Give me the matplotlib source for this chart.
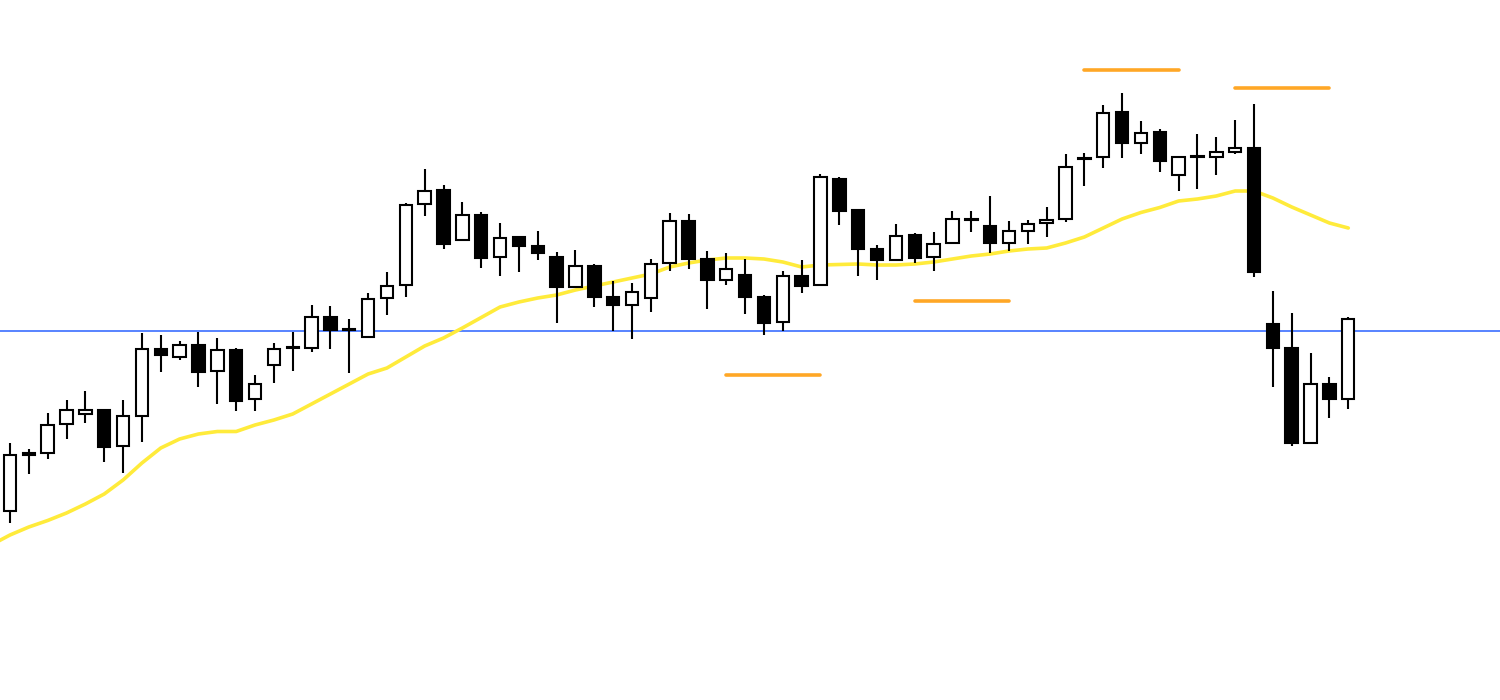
import matplotlib
matplotlib.use("Agg")
import matplotlib.pyplot as plt
import numpy as np

# OHLC per candle (price units, one candle per bar index 1..72)
opens = [189, 245, 247, 276, 286, 290, 254, 284, 351, 343, 355, 329, 350, 301, 335, 352, 352, 383, 371, 363,
         402, 415, 496, 510, 460, 485, 443, 463, 454, 443, 413, 434, 403, 395, 402, 437, 479, 441, 420, 425,
         403, 378, 424, 415, 521, 490, 451, 440, 465, 443, 457, 480, 474, 457, 469, 477, 481, 541, 543, 588,
         557, 568, 525, 543, 543, 548, 552, 376, 352, 257, 316, 301]
highs = [257, 251, 287, 300, 309, 291, 300, 367, 365, 359, 368, 362, 352, 325, 357, 368, 395, 394, 381, 407,
         428, 497, 531, 515, 498, 488, 477, 463, 469, 448, 450, 436, 419, 417, 441, 487, 486, 449, 447, 441,
         405, 429, 440, 526, 523, 491, 455, 476, 467, 468, 489, 489, 504, 479, 480, 493, 546, 547, 595, 607,
         579, 571, 543, 566, 563, 580, 596, 409, 387, 347, 323, 383]
lows = [177, 226, 241, 261, 277, 238, 227, 258, 328, 340, 313, 296, 289, 289, 317, 329, 348, 351, 327, 363,
        385, 403, 484, 451, 460, 432, 424, 428, 440, 377, 413, 393, 369, 361, 388, 429, 431, 391, 415, 386,
        365, 369, 407, 415, 475, 424, 420, 440, 437, 429, 457, 468, 447, 449, 456, 463, 478, 514, 532, 542,
        546, 528, 509, 511, 525, 546, 423, 313, 254, 257, 282, 291]
closes = [245, 247, 275, 290, 290, 253, 284, 351, 345, 355, 328, 350, 299, 316, 351, 353, 383, 370, 370, 401,
          414, 495, 509, 456, 485, 442, 462, 454, 447, 413, 434, 403, 395, 408, 436, 479, 441, 420, 431, 403,
          377, 424, 414, 523, 489, 451, 440, 464, 442, 456, 481, 481, 457, 469, 476, 480, 533, 542, 587, 557,
          567, 539, 543, 544, 548, 552, 428, 352, 257, 316, 301, 381]

# moving average, bar index 0..72 (index 0 is the bar just off the left edge)
ma_values = [155, 165, 173, 179.5, 187, 196, 206, 220, 237, 252, 261, 266, 268.5, 268.5, 275, 280, 286, 296,
             306, 316, 326, 332, 343, 354, 362, 372, 382.5, 393, 398, 402, 405, 410, 414, 418, 422, 426, 433,
             437, 440, 442, 442, 441, 438, 433, 435, 435.5, 436, 435, 435, 436, 438, 441, 444, 446, 449, 451,
             452, 457, 463, 472, 481, 487.5, 492.5, 499, 501, 504, 509, 509, 502, 493, 485, 477, 472]

# horizontal levels
blue_level = 369
orange_levels = [630, 612, 399, 325]
orange_starts = [58, 66, 49, 39]
orange_ends = [63, 71, 54, 44]


def main() -> None:
    fig = plt.figure(figsize=(15, 7), dpi=100)
    ax = fig.add_axes([0, 0, 1, 1])
    ax.set_axis_off()

    idx = np.arange(1, len(opens) + 1)
    o = np.array(opens, dtype=float)
    c = np.array(closes, dtype=float)
    bottoms = np.minimum(o, c)
    heights = np.maximum(np.abs(c - o), 0.8)
    faces = ["white" if cl >= op else "black" for op, cl in zip(opens, closes)]

    ax.axhline(blue_level, color="#2962FF", linewidth=1.1, zorder=1)

    ax.plot(np.arange(0, len(ma_values)), ma_values, color="#FFEB3B", linewidth=2.6,
            solid_capstyle="round", zorder=2)

    for lvl, x0, x1 in zip(orange_levels, orange_starts, orange_ends):
        ax.plot([x0, x1], [lvl, lvl], color="#FFA726", linewidth=2.6, solid_capstyle="round", zorder=2)

    ax.vlines(idx, lows, highs, color="black", linewidth=1.5, zorder=3)
    ax.bar(idx, heights, bottom=bottoms, width=0.66, color=faces, edgecolor="black",
           linewidth=1.5, zorder=4)

    ax.set_xlim(0.47, 80.05)
    ax.set_ylim(0, 700)
    fig.savefig("out.png", dpi=100, facecolor="white")
    plt.close(fig)


if __name__ == "__main__":
    main()
